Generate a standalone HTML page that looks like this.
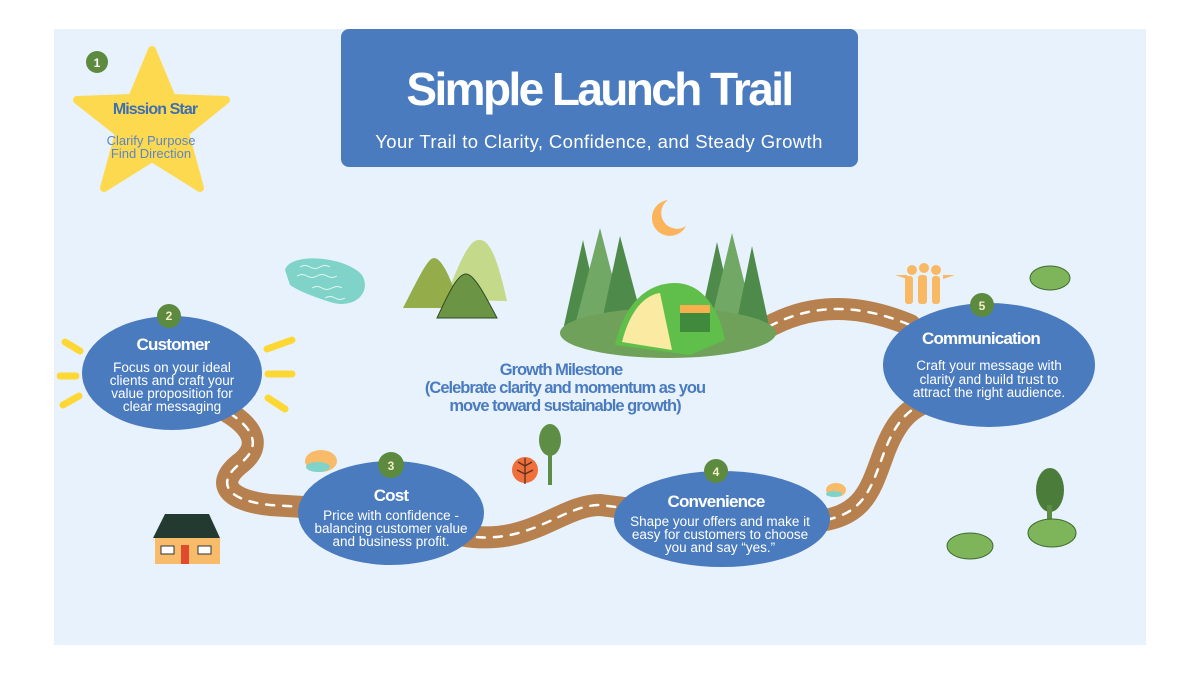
<!DOCTYPE html>
<html><head><meta charset="utf-8"><style>
html,body{margin:0;padding:0;background:#fff;}
svg{display:block;}
text{font-family:"Liberation Sans",sans-serif;}
.h{font-weight:bold;fill:#fff;letter-spacing:-0.8px;}
.b{fill:#fff;font-size:13.5px;}
</style></head><body>
<svg width="1200" height="675" viewBox="0 0 1200 675" xmlns="http://www.w3.org/2000/svg">
<rect x="54" y="29" width="1092" height="616" fill="#e8f2fd"/>

<!-- road -->
<g fill="none" stroke-linecap="round">
<g stroke="#b7814f" stroke-width="22">
<path d="M215 405 C255 425 262 445 242 462 C215 482 225 500 270 505 L320 508"/>
<path d="M460 535 C530 548 560 505 600 505 L640 510"/>
<path d="M810 522 C865 518 870 490 885 450 C900 412 915 405 945 395"/>
<path d="M755 335 C800 305 850 300 910 325"/>
</g>
<g stroke="#fff" stroke-width="2.5" stroke-dasharray="8 9">
<path d="M215 405 C255 425 262 445 242 462 C215 482 225 500 270 505 L320 508"/>
<path d="M460 535 C530 548 560 505 600 505 L640 510"/>
<path d="M810 522 C865 518 870 490 885 450 C900 412 915 405 945 395"/>
<path d="M755 335 C800 305 850 300 910 325"/>
</g>
</g>

<!-- title -->
<rect x="341" y="29" width="517" height="138" rx="8" fill="#4a7bbf"/>
<text x="599" y="105" text-anchor="middle" font-size="46" font-weight="bold" fill="#fff" letter-spacing="-2.6">Simple  Launch Trail</text>
<text x="599" y="148" text-anchor="middle" font-size="18.5" fill="#fff" letter-spacing="0.4">Your Trail to Clarity, Confidence, and Steady Growth</text>

<!-- star -->
<path d="M152 50 L172 98 L226 100 L185 133 L200 188 L152 158 L104 188 L119 133 L77 100 L132 98 Z" fill="#fdd94f" stroke="#fdd94f" stroke-width="8" stroke-linejoin="round"/>
<circle cx="97" cy="62" r="11" fill="#5c8a3e"/>
<text x="97" y="67" text-anchor="middle" font-size="12" font-weight="bold" fill="#fff">1</text>
<text x="155" y="114" text-anchor="middle" font-size="16" font-weight="bold" fill="#3f6fb0" letter-spacing="-0.9">Mission Star</text>
<text x="151" y="145" text-anchor="middle" font-size="13" fill="#5b85c8">Clarify Purpose</text>
<text x="151" y="158" text-anchor="middle" font-size="13" fill="#5b85c8">Find Direction</text>

<!-- pond -->
<path d="M285 270 C290 252 345 256 362 275 C372 292 355 310 330 302 C315 297 300 292 290 285 Z" fill="#7fd3c9"/>
<g stroke="#fff" stroke-width="1" fill="none" opacity="0.8"><path d="M300 267 q5-3 10 0 t10 0 t10 0"/><path d="M297 276 q5-3 10 0 t10 0 t10 0 t10 0"/><path d="M312 288 q5-3 10 0 t10 0 t10 0"/><path d="M325 298 q5-3 10 0 t10 0"/></g>

<!-- mountains -->
<path d="M445 300 C460 260 470 238 480 240 C492 240 500 270 507 301 Z" fill="#c4d98a"/>
<path d="M403 308 C420 275 428 258 434 258 C442 258 452 280 460 308 Z" fill="#94ad4a"/>
<path d="M437 318 C450 290 458 274 466 274 C474 274 485 295 497 318 Z" fill="#6b9545" stroke="#2e4a22" stroke-width="1"/>

<!-- moon -->
<path d="M668 200 A18 18 0 1 0 686 226 A14 14 0 1 1 668 200 Z" fill="#fbb45c"/>

<!-- trees -->
<g>
<polygon points="583,240 563,330 603,330" fill="#4e8a49"/>
<polygon points="600,228 575,325 625,325" fill="#72a866"/>
<polygon points="620,236 600,330 645,330" fill="#4e8a49"/>
<polygon points="717,242 698,330 737,330" fill="#4e8a49"/>
<polygon points="732,233 710,325 755,325" fill="#72a866"/>
<polygon points="752,246 735,330 770,330" fill="#4e8a49"/>
<rect x="580" y="325" width="6" height="10" fill="#7a4a2c"/><rect x="602" y="325" width="6" height="10" fill="#7a4a2c"/>
<rect x="730" y="325" width="6" height="10" fill="#7a4a2c"/><rect x="752" y="325" width="6" height="10" fill="#7a4a2c"/>
</g>
<ellipse cx="668" cy="333" rx="108" ry="25" fill="#6fa15a"/>
<!-- tent -->
<path d="M615 345 C625 300 650 283 675 283 C700 283 718 305 725 340 L690 355 Z" fill="#5fbf4a"/>
<path d="M622 342 C630 310 645 295 660 293 L672 350 Z" fill="#fbeaa2"/>
<rect x="680" y="310" width="30" height="22" fill="#3f8a3c"/>
<rect x="680" y="305" width="30" height="8" fill="#f6b04e"/>

<!-- small trees -->
<circle cx="525" cy="470" r="13" fill="#f0703c"/>
<path d="M525 458 V484 M525 466 l-7 -4 M525 466 l7 -4 M525 474 l-8 -4 M525 474 l8 -4" stroke="#5a3020" stroke-width="1.3" fill="none"/>
<ellipse cx="550" cy="440" rx="11" ry="16" fill="#5e8e45"/>
<rect x="548" y="450" width="4" height="35" fill="#5e8e45"/>
<ellipse cx="1050" cy="490" rx="14" ry="22" fill="#4c7c3a"/>
<rect x="1047" y="505" width="5" height="25" fill="#5e8e45"/>

<!-- bushes -->
<ellipse cx="1050" cy="278" rx="20" ry="12" fill="#7fb55a" stroke="#3e6b2c"/>
<ellipse cx="970" cy="546" rx="23" ry="13" fill="#7fb55a" stroke="#3e6b2c"/>
<ellipse cx="1052" cy="533" rx="24" ry="14" fill="#7fb55a" stroke="#3e6b2c"/>

<!-- rocks -->
<ellipse cx="321" cy="461" rx="16" ry="11" fill="#f7bb6a"/><ellipse cx="318" cy="467" rx="12" ry="5" fill="#7fd3c9"/>
<ellipse cx="836" cy="490" rx="10" ry="7" fill="#f7bb6a"/><ellipse cx="834" cy="494" rx="8" ry="3" fill="#7fd3c9"/>

<!-- people -->
<g fill="#f8b864">
<circle cx="912" cy="270" r="5"/><circle cx="924" cy="268" r="5"/><circle cx="936" cy="270" r="5"/>
<rect x="905" y="276" width="8" height="28" rx="3"/><rect x="918" y="275" width="9" height="29" rx="3"/><rect x="932" y="276" width="8" height="28" rx="3"/>
<path d="M895 275 l12 4 v-4 z M955 275 l-12 4 v-4z"/>
</g>

<!-- house -->
<polygon points="165,514 209,514 220,538 153,538" fill="#223a30"/>
<rect x="155" y="538" width="65" height="26" fill="#f7bb6a"/>
<rect x="181" y="545" width="8" height="19" fill="#e04a2e"/>
<rect x="161" y="546" width="13" height="8" fill="#fff" stroke="#333" stroke-width="1"/>
<rect x="198" y="546" width="13" height="8" fill="#fff" stroke="#333" stroke-width="1"/>

<!-- sun rays -->
<g stroke="#fdd835" stroke-width="7" stroke-linecap="round">
<line x1="65" y1="342" x2="80" y2="351"/><line x1="60" y1="376" x2="76" y2="376"/><line x1="63" y1="405" x2="79" y2="396"/>
<line x1="267" y1="349" x2="292" y2="340"/><line x1="268" y1="374" x2="292" y2="374"/><line x1="268" y1="398" x2="285" y2="409"/>
</g>

<!-- ellipses -->
<g fill="#4a7bbf">
<ellipse cx="172" cy="373" rx="90" ry="57"/>
<ellipse cx="391" cy="513" rx="93" ry="52"/>
<ellipse cx="722" cy="519" rx="108" ry="48"/>
<ellipse cx="989" cy="365" rx="106" ry="62"/>
</g>
<g fill="#5c8a3e">
<circle cx="169" cy="316" r="12"/><circle cx="391" cy="465" r="13"/><circle cx="716" cy="471" r="12"/><circle cx="982" cy="305" r="12"/>
</g>
<g font-size="12" font-weight="bold" fill="#f4edc8" text-anchor="middle">
<text x="169" y="320">2</text><text x="391" y="470">3</text><text x="716" y="476">4</text><text x="982" y="310">5</text>
</g>

<g text-anchor="middle">
<text class="h" x="173" y="350" font-size="17">Customer</text>
<text class="b" x="172" y="372">Focus on your ideal</text>
<text class="b" x="172" y="385">clients and craft your</text>
<text class="b" x="172" y="398">value proposition for</text>
<text class="b" x="172" y="411">clear messaging</text>

<text class="h" x="391" y="501" font-size="17">Cost</text>
<text class="b" x="391" y="520">Price with confidence -</text>
<text class="b" x="391" y="533">balancing customer value</text>
<text class="b" x="391" y="546">and business profit.</text>

<text class="h" x="716" y="507" font-size="17">Convenience</text>
<text class="b" x="720" y="526">Shape your offers and make it</text>
<text class="b" x="720" y="539">easy for customers to choose</text>
<text class="b" x="720" y="552">you and say “yes.”</text>

<text class="h" x="981" y="344" font-size="17">Communication</text>
<text class="b" x="989" y="370">Craft your message with</text>
<text class="b" x="989" y="384">clarity and build trust to</text>
<text class="b" x="989" y="397">attract the right audience.</text>

<g font-size="16.5" font-weight="bold" fill="#4a7bbf" letter-spacing="-1">
<text x="561" y="375">Growth Milestone</text>
<text x="565" y="393">(Celebrate clarity and momentum as you</text>
<text x="565" y="411">move toward sustainable growth)</text>
</g>
</g>
</svg>
</body></html>
